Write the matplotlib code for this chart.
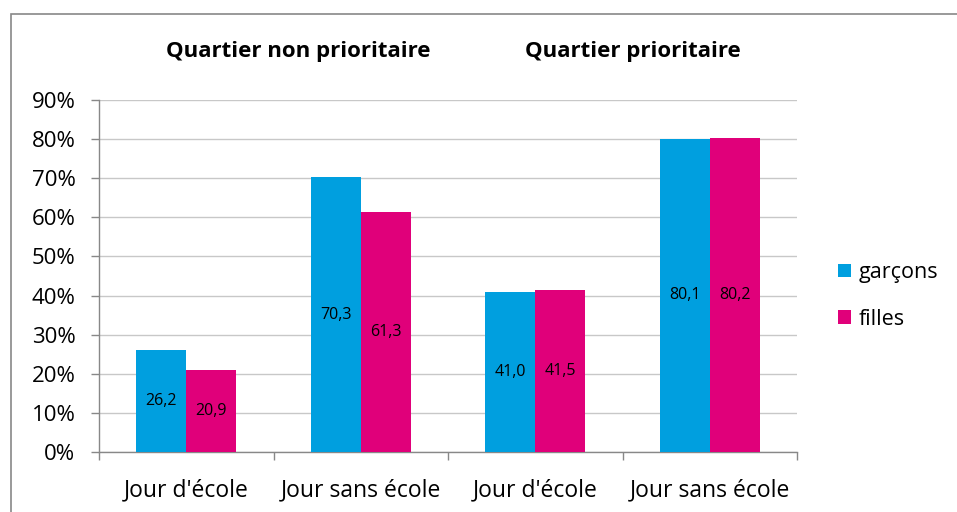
import numpy as np
import matplotlib.pyplot as plt
from matplotlib.patches import Rectangle

categories = ["Jour d'école", "Jour sans école", "Jour d'école", "Jour sans école"]
garcons = [26.2, 70.3, 41.0, 80.1]
filles = [20.9, 61.3, 41.5, 80.2]
series_names = ["garçons", "filles"]
titles = ["Quartier non prioritaire", "Quartier prioritaire"]

blue = '#009fdf'
pink = '#e0007a'
font = 'Open Sans'

fig = plt.figure(figsize=(9.57, 5.12), dpi=100)
ax = fig.add_axes([99/957, 1 - 452/512, 698/957, 352/512])

# outer chart border (clipped at right / bottom like the source)
fig.patches.append(Rectangle((11/957, -0.1), 1.1, 1 - 14/512 + 0.1,
                             transform=fig.transFigure, fill=False,
                             edgecolor='#888888', linewidth=1.2))

x = np.arange(len(categories))
w = 0.2865
b1 = ax.bar(x - w/2, garcons, w, color=blue, label=series_names[0], zorder=3)
b2 = ax.bar(x + w/2, filles, w, color=pink, label=series_names[1], zorder=3)

for bars, vals in [(b1, garcons), (b2, filles)]:
    for r, v in zip(bars, vals):
        ax.text(r.get_x() + r.get_width()/2, v/2, f"{v:.1f}".replace('.', ','),
                ha='center', va='center', fontsize=11.5, family=font, zorder=4)

ax.set_xlim(-0.5, 3.5)
ax.set_ylim(0, 90)
ax.set_yticks(np.arange(0, 91, 10))
ax.set_yticklabels([f"{t}%" for t in range(0, 91, 10)], fontsize=16, family=font)
ax.yaxis.grid(True, color='#c8c8c8', linewidth=1, zorder=0)

ax.set_xticks(x)
ax.set_xticklabels(categories, fontsize=16.5, family=font)
ax.tick_params(axis='x', length=0, pad=19)
ax.set_xticks(np.arange(-0.5, 4, 1), minor=True)
ax.tick_params(axis='x', which='minor', length=6, color='#888888', width=1)
ax.tick_params(axis='y', length=6, color='#888888', width=1, direction='out', pad=11)

for s in ['top', 'right']:
    ax.spines[s].set_visible(False)
for s in ['left', 'bottom']:
    ax.spines[s].set_color('#888888')
    ax.spines[s].set_linewidth(1)

fig.text(298/957, 1 - 52/512, titles[0], ha='center', va='center',
         fontsize=16, fontweight='bold', family=font)
fig.text(633/957, 1 - 52/512, titles[1], ha='center', va='center',
         fontsize=16, fontweight='bold', family=font)

fig.legend(handles=[b1, b2], labels=series_names, loc='center left',
           bbox_to_anchor=(838/957, 1 - 296/512), frameon=False,
           borderaxespad=0, borderpad=0,
           prop={'family': font, 'size': 15.5}, handlelength=0.6, handleheight=0.6,
           handletextpad=0.35, labelspacing=1.2)

fig.savefig('out.png', dpi=100)
